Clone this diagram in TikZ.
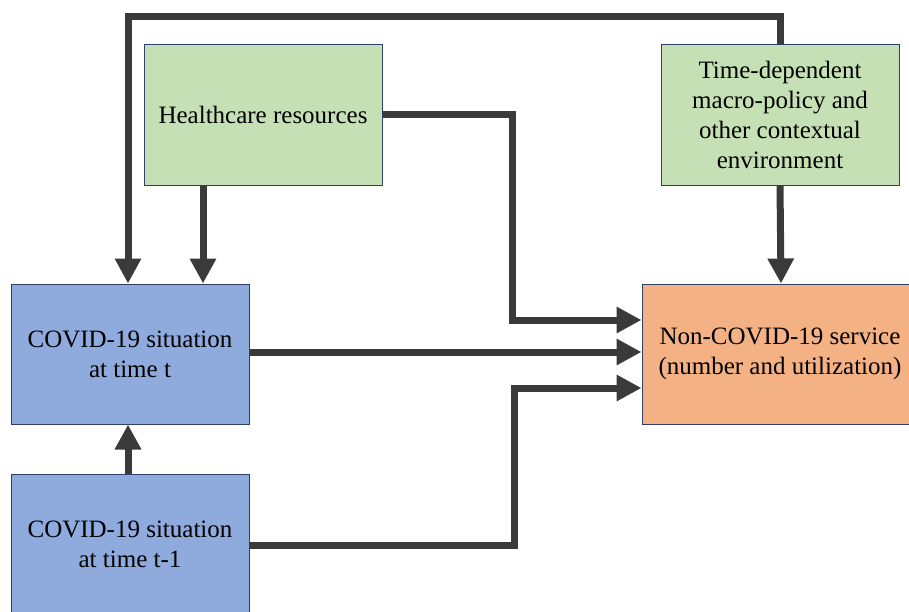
\documentclass[tikz,border=0pt]{standalone}
\usepackage{fontspec}
\setmainfont{Liberation Serif}
\usetikzlibrary{arrows.meta}
\definecolor{boxgreen}{HTML}{C5E0B4}
\definecolor{boxblue}{HTML}{8FAADC}
\definecolor{boxorange}{HTML}{F4B183}
\definecolor{boxline}{HTML}{2F3F6A}
\definecolor{arrgray}{HTML}{3A3A3A}
\tikzset{
  box/.style={draw=boxline, line width=1pt, minimum width=238pt, minimum height=141pt,
    align=center, inner sep=4pt, font=\fontsize{25}{30}\selectfont},
  arr/.style={draw=arrgray, line width=7pt, -{Triangle[width=25pt,length=25pt]}},
}
\begin{document}
\begin{tikzpicture}[x=1pt,y=-1pt]
\useasboundingbox (0,0) rectangle (909,611);
\clip (0,0) rectangle (909,611);
\node[box, fill=boxgreen] (hc) at (263,114.5) {Healthcare resources};
\node[box, fill=boxgreen] (td) at (780,114.5) {Time-dependent\\macro-policy and\\other contextual\\environment};
\node[box, fill=boxblue, minimum height=140pt] (ct) at (130,354) {COVID-19 situation\\at time t};
\node[box, fill=boxblue, minimum height=140pt] (ct1) at (130,544) {COVID-19 situation\\at time t-1};
\node[box, fill=boxorange, minimum width=276pt, minimum height=140pt] (nc) at (780,354) {Non-COVID-19 service\\(number and utilization)};
% connectors
\draw[arr] (td.north) -- ++(0,-27) -| ([xshift=-2pt]ct.north);
\draw[arr] ([xshift=-60pt]hc.south) -- ([xshift=73pt]ct.north);
\draw[arr] (hc.east) -| (512,320) -- ([yshift=34pt]nc.west);
\draw[arr] ([yshift=2pt]ct.east) -- ([yshift=2pt]nc.west);
\draw[arr] ([yshift=-1pt]ct1.east) -| (514,388) -- ([yshift=-34pt]nc.west);
\draw[arr] ([xshift=-2pt]ct1.north) -- ([xshift=-2pt]ct.south);
\draw[arr] (td.south) -- ([xshift=1pt]nc.north);
\end{tikzpicture}
\end{document}
